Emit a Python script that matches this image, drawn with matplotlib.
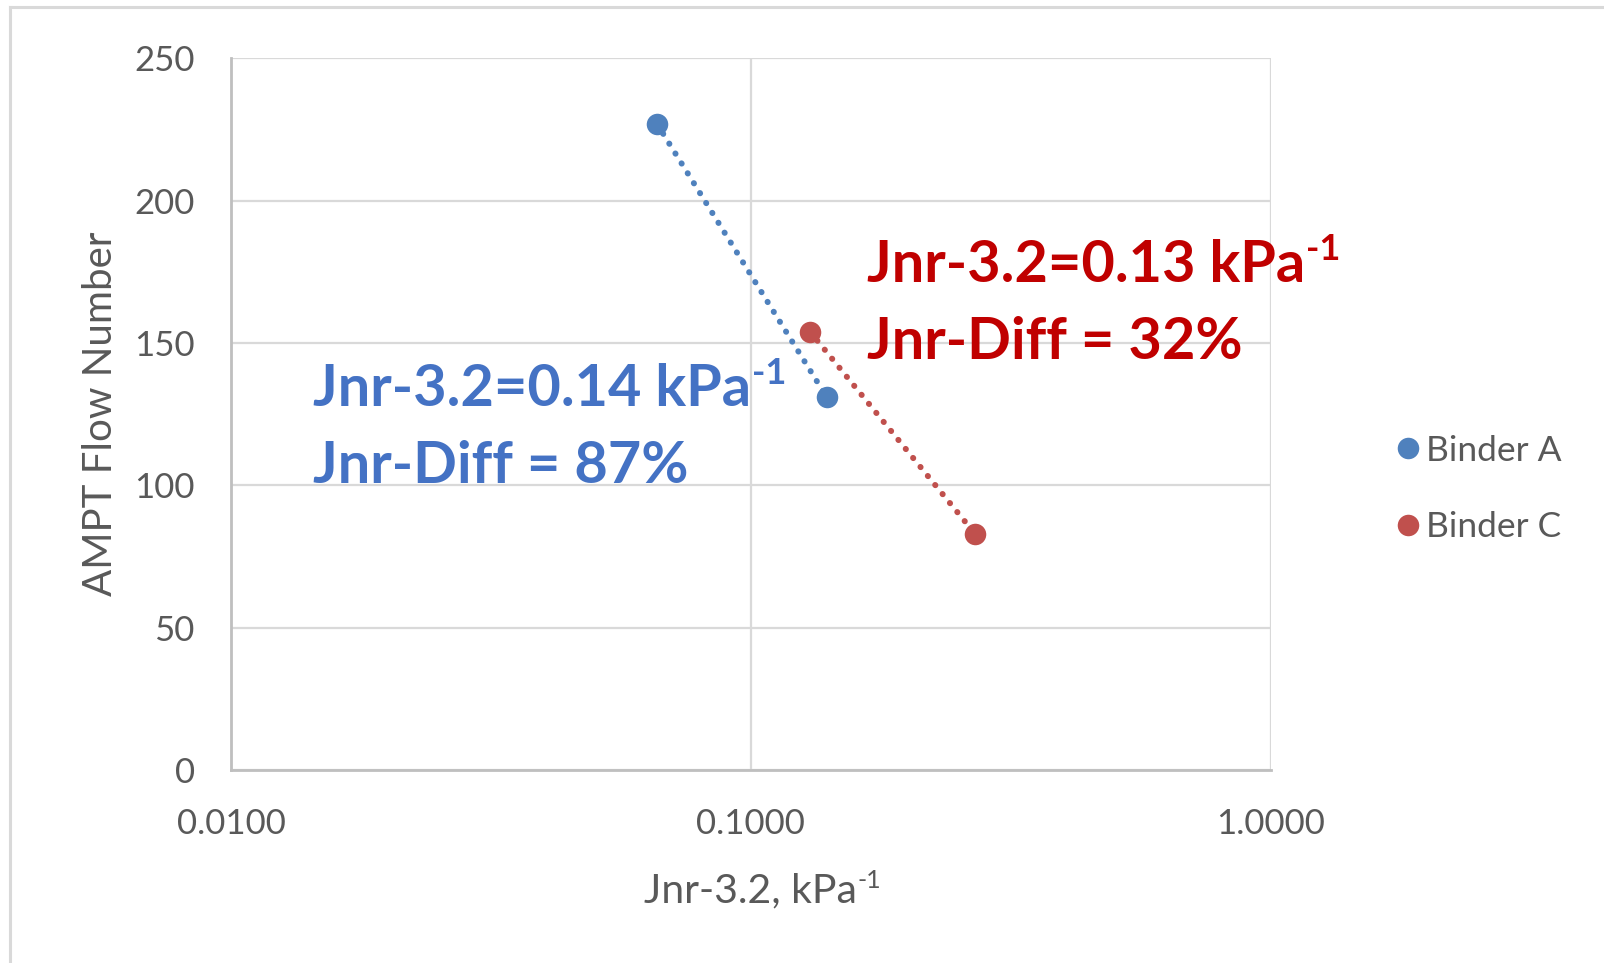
import matplotlib
matplotlib.use('Agg')
import matplotlib.pyplot as plt
from matplotlib.lines import Line2D

# Flow number vs. non-recoverable creep compliance for two binders
series_names = ['Binder A', 'Binder C']
binder_a_jnr = [0.066, 0.14]
binder_a_fn = [227, 131]
binder_c_jnr = [0.13, 0.27]
binder_c_fn = [154, 83]

x_ticks = [0.01, 0.1, 1.0]
x_tick_labels = ['0.0100', '0.1000', '1.0000']
y_ticks = [0, 50, 100, 150, 200, 250]

note_a = ['Jnr-3.2=0.14 kPa', 'Jnr-Diff = 87%']
note_c = ['Jnr-3.2=0.13 kPa', 'Jnr-Diff = 32%']

BLUE = '#4F81BD'
RED = '#C0504D'
BLUE_TXT = '#4472C4'
RED_TXT = '#C00000'
GREY_TXT = '#595959'

plt.rcParams['font.family'] = ['Lato', 'DejaVu Sans']

W, H = 1604, 963
fig = plt.figure(figsize=(W / 100, H / 100), dpi=100)
fig.patch.set_facecolor('white')


def fx(px):
    return px / W


def fy(py):
    return 1 - py / H


# plot area
left, right, top, bottom = 231, 1270.5, 58.3, 770
ax = fig.add_axes([fx(left), fy(bottom), (right - left) / W, (bottom - top) / H])
ax.set_xscale('log')
ax.set_xlim(0.01, 1)
ax.set_ylim(0, 250)
ax.set_xticks(x_ticks)
ax.set_xticklabels(x_tick_labels)
ax.xaxis.set_minor_locator(matplotlib.ticker.NullLocator())
ax.set_yticks(y_ticks)
ax.tick_params(axis='both', length=0, labelsize=25, labelcolor=GREY_TXT)
ax.tick_params(axis='x', pad=27)
ax.tick_params(axis='y', pad=26)
ax.grid(True, color='#D9D9D9', lw=1.6)
ax.set_axisbelow(True)
for s in ['top', 'right']:
    ax.spines[s].set_visible(False)
for s in ['left', 'bottom']:
    ax.spines[s].set_color('#BFBFBF')
    ax.spines[s].set_linewidth(2.0)

ax.set_xlabel('Jnr-3.2, kPa', fontsize=29.5, color=GREY_TXT, labelpad=24)
ax.set_ylabel('AMPT Flow Number', fontsize=29, color=GREY_TXT, labelpad=11)

# dotted trend lines
dot = (0, (0.05, 1.9))
ax.plot(binder_a_jnr, binder_a_fn, color=BLUE, lw=4.3, linestyle=dot,
        dash_capstyle='round', zorder=3)
ax.plot(binder_c_jnr, binder_c_fn, color=RED, lw=4.3, linestyle=dot,
        dash_capstyle='round', zorder=3)

# markers
ax.plot(binder_a_jnr, binder_a_fn, 'o', color=BLUE, ms=15.5, mec='none',
        zorder=4, label=series_names[0])
ax.plot(binder_c_jnr, binder_c_fn, 'o', color=RED, ms=15.5, mec='none',
        zorder=4, label=series_names[1])

leg = ax.legend(loc='center left', bbox_to_anchor=(fx(1380), fy(489)),
                bbox_transform=fig.transFigure, frameon=False, fontsize=25.5,
                handlelength=0.6, handletextpad=0.2, labelspacing=1.25,
                markerscale=1.0, borderpad=0)
for t in leg.get_texts():
    t.set_color(GREY_TXT)

fig.canvas.draw()
renderer = fig.canvas.get_renderer()


def text_with_sup(x, y, main, sup, size, color, weight, sup_size, rise):
    t = fig.text(fx(x), fy(y), main, fontsize=size, color=color,
                 fontweight=weight, ha='left', va='baseline')
    bb = t.get_window_extent(renderer=renderer)
    fig.text(bb.x1 / W + 0.5 / W, fy(y) + rise / H, sup, fontsize=sup_size,
             color=color, fontweight=weight, ha='left', va='baseline')


# annotations
text_with_sup(313, 406, note_a[0], '-1', 41.5, BLUE_TXT, 'bold', 26, 22)
fig.text(fx(313), fy(483), note_a[1], fontsize=41.5, color=BLUE_TXT,
         fontweight='bold', ha='left', va='baseline')
text_with_sup(867, 282, note_c[0], '-1', 41.5, RED_TXT, 'bold', 26, 22)
fig.text(fx(867), fy(359), note_c[1], fontsize=41.5, color=RED_TXT,
         fontweight='bold', ha='left', va='baseline')

# superscript on the x-axis title
xl = ax.xaxis.label
bb = xl.get_window_extent(renderer=renderer)
fig.text(bb.x1 / W + 0.5 / W, bb.y0 / H + 0.6 * bb.height / H, '-1',
         fontsize=18, color=GREY_TXT, ha='left', va='baseline')

# chart frame
fig.add_artist(Line2D([fx(10), 1], [fy(7), fy(7)], color='#D9D9D9', lw=2.2))
fig.add_artist(Line2D([fx(10), fx(10)], [fy(7), 0], color='#D9D9D9', lw=2.2))

fig.savefig('out.png', dpi=100, facecolor='white')
